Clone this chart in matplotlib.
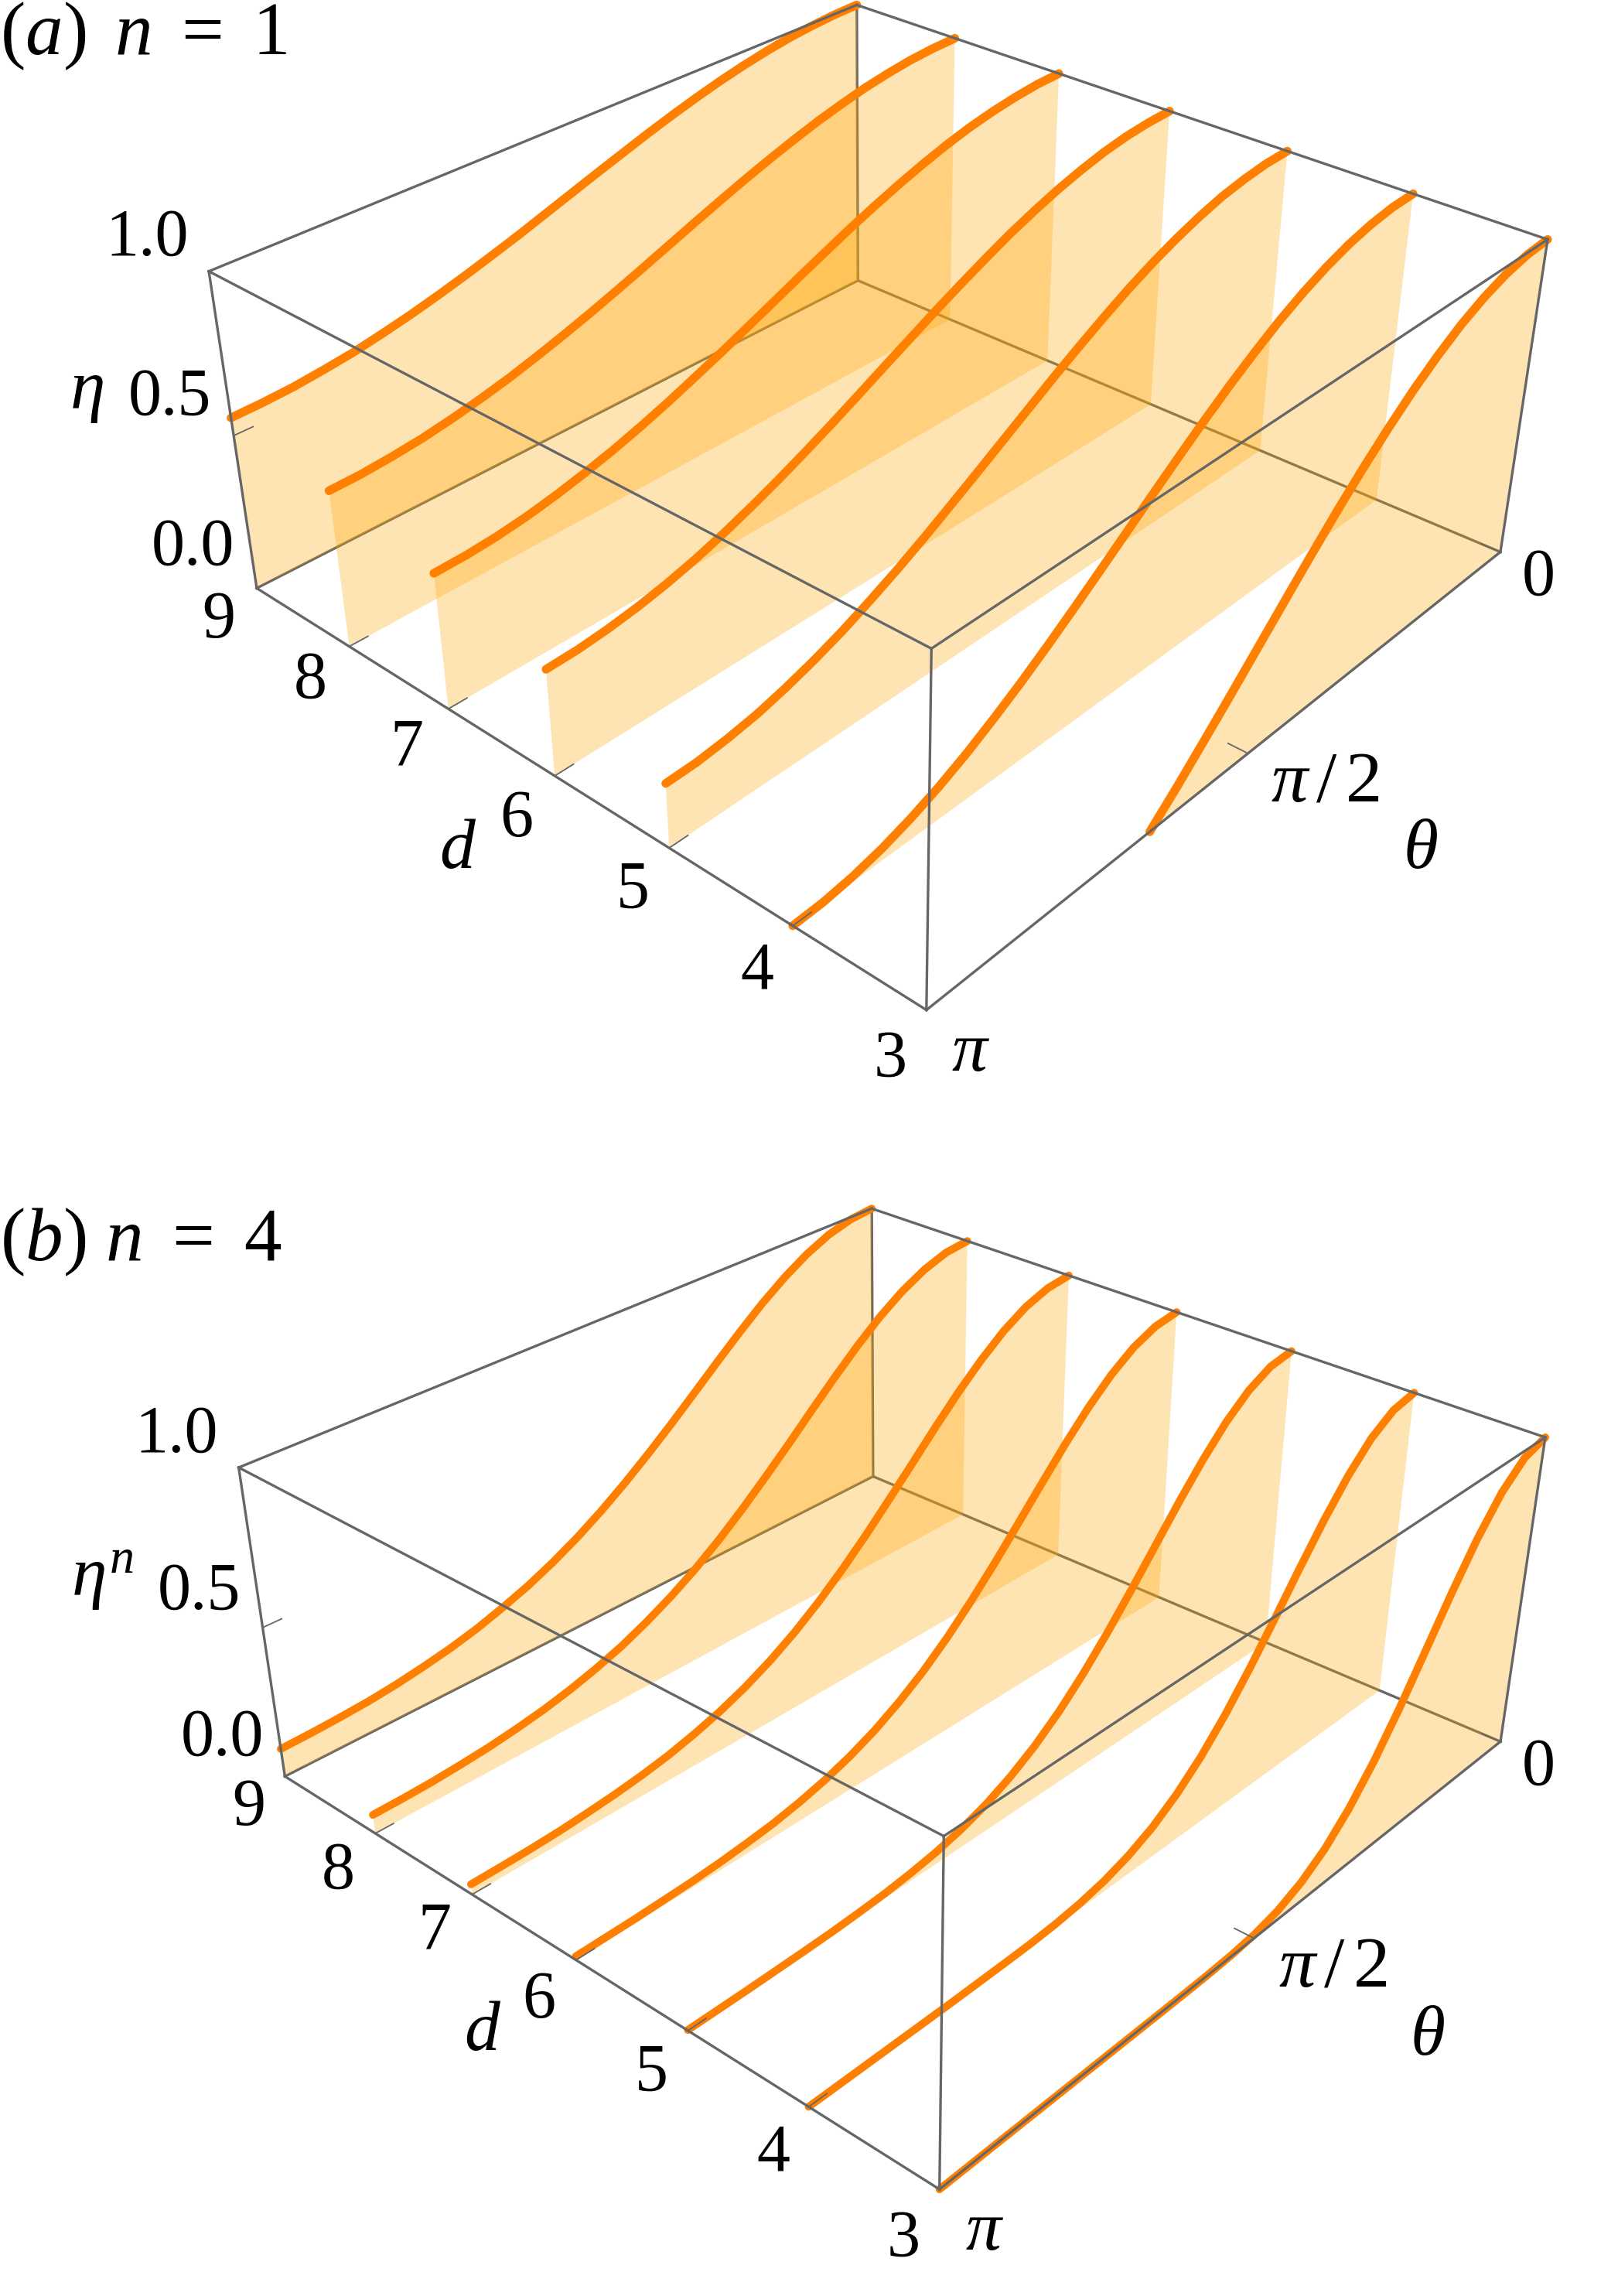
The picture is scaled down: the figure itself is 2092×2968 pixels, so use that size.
import matplotlib
matplotlib.use("Agg")
import matplotlib.pyplot as plt
import numpy as np
from mpl_toolkits.mplot3d.art3d import Poly3DCollection

plt.rcParams['font.family'] = ['Liberation Serif', 'DejaVu Serif']
plt.rcParams['mathtext.fontset'] = 'custom'
plt.rcParams['mathtext.rm'] = 'Liberation Serif'
plt.rcParams['mathtext.it'] = 'Liberation Serif:italic'

W, H = 2092, 2968

# theta grid in units of pi/24, read at each step along the curves
thetaSteps = list(range(25))
dValues = [9, 8, 7, 6, 5, 4, 3]

# panel (a): eta, 25 values from theta=0 to theta=pi
etaD9 = [1, .998, .992, .983, .970, .954, .935, .913, .889, .863, .835, .807, .778,
         .749, .720, .693, .667, .643, .621, .602, .585, .573, .563, .558, .556]
etaD8 = [1, .998, .992, .981, .967, .948, .927, .902, .875, .846, .815, .783, .750,
         .717, .685, .654, .625, .598, .573, .552, .534, .519, .509, .502, .500]
etaD7 = [1, .998, .990, .978, .962, .941, .916, .888, .857, .824, .788, .752, .714,
         .677, .640, .605, .571, .540, .512, .488, .467, .450, .438, .431, .429]
etaD6 = [1, .997, .989, .975, .955, .931, .902, .870, .833, .794, .753, .710, .667,
         .623, .580, .539, .500, .464, .431, .402, .378, .359, .345, .336, .333]
etaD5 = [1, .997, .986, .970, .946, .917, .883, .844, .800, .753, .704, .652, .600,
         .548, .497, .447, .400, .357, .317, .283, .254, .230, .214, .203, .200]
etaD4 = [1, .996, .983, .962, .933, .897, .854, .804, .750, .691, .629, .565, .500,
         .435, .371, .309, .250, .196, .146, .103, .067, .038, .017, .004, 0]
etaD3 = [1, .994, .977, .949, .911, .862, .805, .739, .667, .589, .506, .420, .333,
         .246, .161, .078, 0]

# panel (b): eta^4
powD9 = [1, .992, .970, .934, .886, .829, .764, .695, .624, .554, .487, .424, .366,
         .314, .269, .230, .198, .170, .148, .131, .117, .107, .101, .097, .095]
powD8 = [1, .992, .966, .926, .873, .809, .738, .663, .586, .512, .441, .375, .316,
         .265, .221, .183, .153, .128, .108, .093, .081, .073, .067, .064, .063]
powD7 = [1, .990, .962, .916, .855, .784, .705, .622, .540, .460, .386, .319, .260,
         .210, .168, .134, .107, .085, .069, .057, .048, .041, .037, .035, .034]
powD6 = [1, .988, .955, .902, .833, .752, .663, .572, .482, .398, .321, .254, .198,
         .151, .114, .085, .063, .046, .035, .026, .020, .017, .014, .013, .012]
powD5 = [1, .987, .947, .884, .802, .708, .607, .506, .410, .322, .245, .181, .130,
         .090, .061, .040, .026, .016, .010, .006, .004, .003, .002, .002, .002]
powD4 = [1, .983, .934, .856, .758, .647, .531, .419, .316, .228, .157, .102, .063,
         .036, .019, .009, .004, .002, .001, 0, 0, 0, 0, 0, 0]
powD3 = [1, .977, .912, .812, .688, .553, .419, .299, .198, .120, .066, .031, .012,
         .004, .001, 0, 0, 0, 0, 0, 0, 0, 0, 0, 0]

panelA = [etaD9, etaD8, etaD7, etaD6, etaD5, etaD4, etaD3]
panelB = [powD9, powD8, powD7, powD6, powD5, powD4, powD3]

# box corners (theta, d, z) and where they sit in the image
boxPoints = [(np.pi, 9, 0), (np.pi, 9, 1), (0, 9, 1), (0, 9, 0),
             (0, 3, 1), (0, 3, 0), (np.pi, 3, 1), (np.pi, 3, 0)]
cornersA = [(332, 760), (270, 351), (1108, 6), (1109, 363),
            (2001, 310), (1940, 713), (1204, 838), (1198, 1306)]
cornersB = [(368, 2296), (309, 1897), (1127, 1562), (1129, 1909),
            (1998, 1858), (1940, 2251), (1220, 2374), (1215, 2830)]

fillColor = (1.0, 0.66, 0.02, 0.30)
lineColor = '#ff8000'
boxColor = '#666666'


def fitProjection(ax, corners):
    # solve the 3x4 camera matrix from the 8 box corners, in 2D axes coords
    ax.apply_aspect()
    inv = ax.transData.inverted()
    rows = []
    for (x, y, z), (px, py) in zip(boxPoints, corners):
        u, v = inv.transform((px, H - py))
        rows.append([x, y, z, 1, 0, 0, 0, 0, -u * x, -u * y, -u * z, -u])
        rows.append([0, 0, 0, 0, x, y, z, 1, -v * x, -v * y, -v * z, -v])
    P = np.linalg.svd(np.array(rows))[2][-1].reshape(3, 4)
    if (P[2] @ np.array([1.5, 6, 0.5, 1])) < 0:
        P = -P
    depth = np.linalg.svd(P)[2][-1]
    return np.vstack([P[0], P[1], depth, P[2]])


def drawPanel(bottomPx, corners, curves, curveWidth):
    ax = fig.add_axes([0, bottomPx / H, 1, W / H], projection='3d')
    ax.set_axis_off()
    ax.patch.set_visible(False)
    ax.computed_zorder = False
    ax.set_proj_type('ortho')
    M = fitProjection(ax, corners)
    ax.get_proj = lambda: M

    # edges behind the sheets
    back = [((0, 9, 0), (0, 9, 1)), ((0, 9, 0), (np.pi, 9, 0)), ((0, 9, 0), (0, 3, 0))]
    for a, b in back:
        ax.plot(*zip(a, b), color=boxColor, lw=2.4, zorder=1)

    for d, vals in zip(dValues, curves):
        vals = np.array(vals, dtype=float)
        theta = np.array(thetaSteps[:len(vals)]) * np.pi / 24
        verts = list(zip(theta, [d] * len(theta), vals))
        verts += [(theta[-1], d, 0), (0, d, 0)]
        poly = Poly3DCollection([verts], facecolors=[fillColor], edgecolors='none', zorder=2)
        ax.add_collection3d(poly)
        ax.plot(theta, [d] * len(theta), vals, color=lineColor, lw=curveWidth,
                solid_capstyle='round', solid_joinstyle='round', zorder=3)

    front = [((np.pi, 9, 0), (np.pi, 9, 1)), ((np.pi, 9, 1), (0, 9, 1)),
             ((np.pi, 9, 1), (np.pi, 3, 1)), ((0, 9, 1), (0, 3, 1)),
             ((np.pi, 3, 1), (0, 3, 1)), ((np.pi, 3, 1), (np.pi, 3, 0)),
             ((0, 3, 1), (0, 3, 0)), ((np.pi, 9, 0), (np.pi, 3, 0)),
             ((np.pi, 3, 0), (0, 3, 0))]
    for a, b in front:
        ax.plot(*zip(a, b), color=boxColor, lw=2.4, zorder=4)

    # small ticks
    for d in dValues:
        ax.plot([np.pi, np.pi - 0.08], [d, d], [0, 0], color=boxColor, lw=1.3, zorder=4)
    for t in [0, np.pi / 2, np.pi]:
        ax.plot([t, t], [3, 3.15], [0, 0], color=boxColor, lw=1.3, zorder=4)
    ax.plot([np.pi, np.pi - 0.08], [9, 9], [0.5, 0.5], color=boxColor, lw=1.3, zorder=4)
    return ax


def label(px, py, s, size=62, **kw):
    fig.text(px / W, 1 - py / H, s, fontsize=size, ha='center', va='center', **kw)


fig = plt.figure(figsize=(W / 100, H / 100), dpi=100)

drawPanel(H - W, cornersA, panelA, 8.0)
drawPanel(0, cornersB, panelB, 7.2)

digitsA = [(190, 309, '1.0'), (219, 515, '0.5'), (249, 709, '0.0'), (283, 803, '9'),
           (401, 881, '8'), (526, 968, '7'), (668, 1060, '6'), (818, 1152, '5'),
           (979, 1257, '4'), (1151, 1371, '3'), (1989, 748, '0')]
digitsB = [(228, 1856, '1.0'), (257, 2059, '0.5'), (287, 2248, '0.0'), (322, 2338, '9'),
           (437, 2420, '8'), (562, 2498, '7'), (697, 2587, '6'), (842, 2681, '5'),
           (1000, 2785, '4'), (1168, 2896, '3'), (1989, 2286, '0')]
symbols = [(112, 508, r'$\eta$'), (592, 1100, r'$d$'), (1255, 1362, r'$\pi$'),
           (1836, 1100, r'$\theta$'), (132, 2043, r'$\eta^n$'), (624, 2628, r'$d$'),
           (1273, 2886, r'$\pi$'), (1845, 2634, r'$\theta$')]
for x, y, s in digitsA + digitsB:
    label(x, y, s)
for x, y, s in symbols:
    label(x, y, s, size=66)
label(1713, 1013, r'$\pi\,/\,2$', size=68)
label(1723, 2545, r'$\pi\,/\,2$', size=68)

fig.text(0, 1 - 47 / H, r'$(a)\ \,n\ =\ 1$', fontsize=70, ha='left', va='center')
fig.text(0, 1 - 1606 / H, r'$(b)\ n\ =\ 4$', fontsize=70, ha='left', va='center')

fig.savefig("out.png", dpi=100)
